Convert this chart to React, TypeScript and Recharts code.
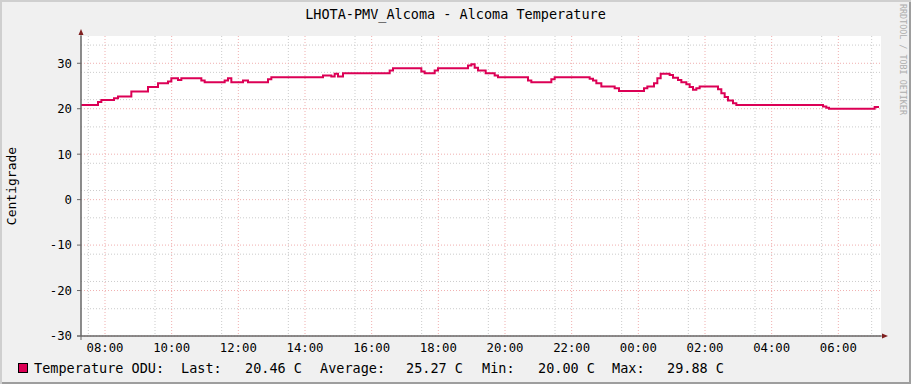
import React from "react";
import { LineChart, Line, XAxis, YAxis, CartesianGrid } from "recharts";

// step change points: hour of day (continuing past 24 into the next day) and temperature
const stepHours = [
  7.28, 7.79, 7.89, 8.27, 8.39, 8.79, 9.29, 9.59, 9.89, 9.99, 10.19, 10.29, 10.89, 10.99,
  11.59, 11.69, 11.79, 12.14, 12.29, 12.89, 12.99, 14.54, 14.79, 14.89, 14.99, 15.14,
  16.54, 16.64, 17.49, 17.59, 17.89, 17.99, 18.89, 18.99, 19.09, 19.19, 19.42, 19.69,
  19.79, 20.69, 20.79, 21.39, 21.49, 22.54, 22.64, 22.74, 22.89, 23.29, 23.42, 24.17,
  24.27, 24.47, 24.57, 24.67, 24.94, 25.04, 25.19, 25.29, 25.44, 25.54, 25.64, 25.74,
  25.84, 26.39, 26.49, 26.59, 26.69, 26.84, 26.94, 29.54, 29.64, 29.72, 31.09, 31.22,
];
const stepTemps = [
  20.8, 21.5, 21.9, 22.3, 22.7, 23.8, 24.8, 25.6, 26.0, 26.7, 26.3, 26.7, 26.2, 25.8,
  26.2, 26.7, 25.8, 26.2, 25.8, 26.5, 26.9, 27.3, 27.1, 27.7, 27.1, 27.8,
  28.4, 28.9, 28.2, 27.8, 28.4, 28.9, 29.5, 29.8, 29.0, 28.4, 27.8, 27.3,
  26.9, 26.2, 25.8, 26.5, 26.9, 26.6, 26.2, 25.6, 24.9, 24.5, 23.9, 24.5,
  24.9, 25.6, 26.7, 27.7, 27.4, 26.8, 26.3, 25.8, 25.4, 24.8, 24.2, 24.5,
  24.9, 24.3, 23.4, 22.6, 21.8, 21.2, 20.8, 20.5, 20.2, 20.0, 20.4, 20.4,
];

const hourTicks = [8, 10, 12, 14, 16, 18, 20, 22, 24, 26, 28, 30];
const tempTicks = [-30, -20, -10, 0, 10, 20, 30];

const legendName = "Temperature ODU:";
const statLabels = ["Last:", "Average:", "Min:", "Max:"];
const statValues = ["20.46 C", "25.27 C", "20.00 C", "29.88 C"];

const xDomain = [7.28, 31.28];
const yDomain = [-30, 36];

// minor grid every 30 min / every 2 degrees
const minorHours = Array.from({ length: 48 }, (_, i) => 7.5 + i * 0.5).filter(
  (h) => h < 31.28 && h % 2 !== 0
);
const minorTemps = Array.from({ length: 32 }, (_, i) => -28 + i * 2).filter(
  (t) => t % 10 !== 0
);

const data = stepHours.map((h, i) => ({ h, temp: stepTemps[i] }));

const LINE = "#dc0055";
const MONO = "'DejaVu Sans Mono', monospace";

const fmtHour = (h: number) => `${String(h % 24).padStart(2, "0")}:00`;

const statLabelX = [181, 320, 482, 612];
const statValueX = [245, 406, 538, 667];

export default function App() {
  return (
    <div
      style={{
        position: "absolute",
        left: 0,
        top: 0,
        width: 911,
        height: 384,
        background: "#f0f0f0",
        boxShadow: "inset 2px 2px 0 #cfcfcf, inset -2px -2px 0 #9e9e9e",
        fontFamily: MONO,
      }}
    >
      <LineChart
        width={911}
        height={384}
        data={data}
        margin={{ top: 36, right: 30, bottom: 0, left: 0 }}
      >
        <CartesianGrid
          fill="#ffffff"
          stroke="#cbcbcb"
          strokeDasharray="1 2"
          horizontalValues={minorTemps}
          verticalValues={minorHours}
        />
        <CartesianGrid
          stroke="#f0afaf"
          strokeDasharray="1 2"
          horizontalValues={tempTicks}
          verticalValues={hourTicks}
        />
        <XAxis
          dataKey="h"
          type="number"
          domain={xDomain}
          ticks={hourTicks}
          tickFormatter={fmtHour}
          height={48}
          tickSize={3}
          tickMargin={4}
          tickLine={false}
          axisLine={{ stroke: "#666" }}
          tick={{ fontSize: 12.3, fontFamily: MONO, fill: "#000" }}
        />
        <YAxis
          type="number"
          domain={yDomain}
          ticks={tempTicks}
          width={81}
          tickSize={4}
          tickMargin={5}
          tickLine={{ stroke: "#666" }}
          axisLine={{ stroke: "#666" }}
          tick={{ fontSize: 12.3, fontFamily: MONO, fill: "#000" }}
          label={{
            value: "Centigrade",
            content: ({ viewBox }: any) => {
              const cx = viewBox.x + 16;
              const cy = viewBox.y + viewBox.height / 2;
              return (
                <text
                  x={cx}
                  y={cy}
                  transform={`rotate(-90 ${cx} ${cy})`}
                  textAnchor="middle"
                  fontSize={13}
                  fontFamily={MONO}
                  fill="#000"
                >
                  Centigrade
                </text>
              );
            },
          }}
        />
        <Line
          type="stepAfter"
          dataKey="temp"
          stroke={LINE}
          strokeWidth={2}
          dot={false}
          isAnimationActive={false}
        />
      </LineChart>

      <svg
        width={911}
        height={384}
        style={{ position: "absolute", left: 0, top: 0, pointerEvents: "none" }}
      >
        <text
          x={455.5}
          y={19}
          textAnchor="middle"
          fontSize={13.5}
          fontFamily={MONO}
          fill="#000"
        >
          LHOTA-PMV_Alcoma - Alcoma Temperature
        </text>
        <text
          x={899.5}
          y={4}
          transform="rotate(90 899.5 4)"
          fontSize={8.4}
          fontFamily={MONO}
          fill="#adadad"
        >
          RRDTOOL / TOBI OETIKER
        </text>

        {/* axis extensions and arrows */}
        <line x1={81} y1={33} x2={81} y2={340} stroke="#666" />
        <line x1={77} y1={336} x2={883} y2={336} stroke="#666" />
        <polygon points="78.5,35 83.5,35 81,29" fill="#7f1f1f" />
        <polygon points="882,333.5 882,338.5 888,336" fill="#7f1f1f" />

        {/* legend */}
        <rect x={18.5} y={363.5} width={9} height={9} fill={LINE} stroke="#000" />
        <text x={34} y={373} fontSize={13.5} fontFamily={MONO} fill="#000">
          {legendName}
        </text>
        {statLabels.map((l, i) => (
          <g key={l}>
            <text x={statLabelX[i]} y={373} fontSize={13.5} fontFamily={MONO} fill="#000">
              {l}
            </text>
            <text x={statValueX[i]} y={373} fontSize={13.5} fontFamily={MONO} fill="#000">
              {statValues[i]}
            </text>
          </g>
        ))}
      </svg>
    </div>
  );
}
